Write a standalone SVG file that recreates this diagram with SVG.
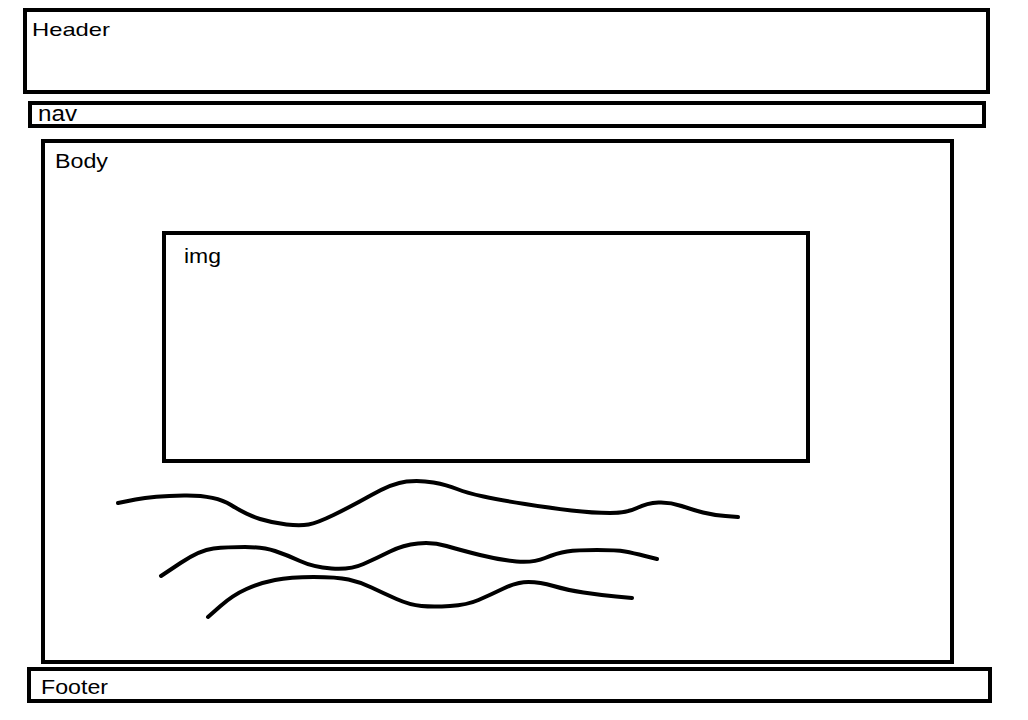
<svg xmlns="http://www.w3.org/2000/svg" width="1028" height="720" viewBox="0 0 1028 720">
<style>
.box{fill:none;stroke:#000;stroke-width:4}
.lbl{font-family:"Liberation Sans",Arial,sans-serif;font-size:20px;fill:#000}
.wave{fill:none;stroke:#000;stroke-width:4;stroke-linecap:round;stroke-linejoin:round}
</style>
<rect width="1028" height="720" fill="#fff"/>
<g id="header"><rect class="box" x="25" y="10" width="963" height="82"/><text class="lbl" x="32" y="36" style="font-size:18.5px" textLength="78" lengthAdjust="spacingAndGlyphs">Header</text></g>
<g id="nav"><rect class="box" x="30" y="103" width="954" height="23"/><text class="lbl" x="38" y="121" style="font-size:22px" textLength="39" lengthAdjust="spacingAndGlyphs">nav</text></g>
<g id="body"><rect class="box" x="43" y="141" width="909" height="521"/><text class="lbl" x="55" y="168" style="font-size:19.5px" textLength="53" lengthAdjust="spacingAndGlyphs">Body</text></g>
<g id="img"><rect class="box" x="164" y="233" width="644" height="228"/><text class="lbl" x="184" y="263" style="font-size:19.5px" textLength="37" lengthAdjust="spacingAndGlyphs">img</text></g>
<g id="footer"><rect class="box" x="29" y="669" width="961" height="32"/><text class="lbl" x="41" y="694" style="font-size:21px" textLength="67" lengthAdjust="spacingAndGlyphs">Footer</text></g>
<g id="text-lines">
<path class="wave" d="M118,503 L135.5,499.5 Q153,496 184,495.5 Q215,495 231,505 Q247,515 260,519 Q273,523 286.5,524.5 Q300,526 308.5,524.5 Q317,523 333.5,515 Q350,507 371.5,495 Q393,483 406.5,481.5 Q420,480 433.5,482.5 Q447,485 457,489 Q467,493 483.5,496.5 Q500,500 525,504 Q550,508 571.5,510.5 Q593,513 610,513 Q627,513 637,508 Q647,503 658.5,502.5 Q670,502 681.5,506 Q693,510 703,512.5 Q713,515 725.5,516 L738,517"/>
<path class="wave" d="M161,576 L180.5,563 Q200,550 213.5,548.5 Q227,547 245,547 Q263,547 275,551 Q287,555 300,561 Q313,567 331.5,568.5 Q350,570 363.5,564 Q377,558 390,551.5 Q403,545 418,543.5 Q433,542 446.5,546 Q460,550 480,555 Q500,560 516.5,561.5 Q533,563 545,558 Q557,553 567,551.5 Q577,550 597,550 Q617,550 625,551.5 Q633,553 645,556 L657,559"/>
<path class="wave" d="M208,617 L220.5,606 Q233,595 246.5,589 Q260,583 275,580 Q290,577 313.5,577 Q337,577 348.5,579.5 Q360,582 371.5,587.5 Q383,593 396.5,599 Q410,605 421.5,606 Q433,607 450,606 Q467,605 478.5,600 Q490,595 503.5,588.5 Q517,582 528.5,582 Q540,582 553.5,586 Q567,590 583.5,592.5 Q600,595 616,596.5 L632,598"/>
</g>
</svg>
